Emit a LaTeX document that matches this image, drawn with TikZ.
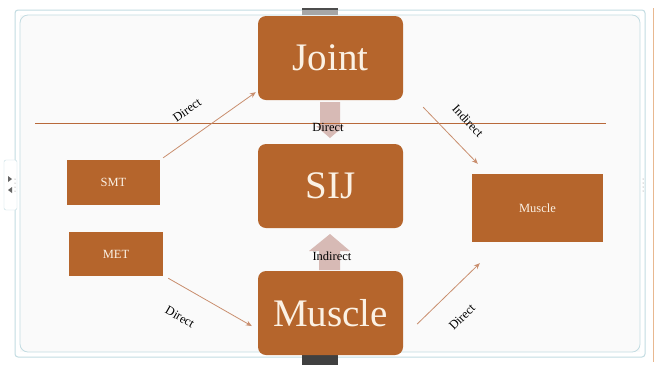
\documentclass[tikz,border=0pt]{standalone}
\usepackage{fontspec}
\setmainfont{Liberation Serif}
\usetikzlibrary{calc,arrows.meta}
\definecolor{boxc}{HTML}{B5652C}
\definecolor{boxtxt}{HTML}{FBF1E4}
\definecolor{pinkc}{HTML}{D7BAB5}
\definecolor{linec}{HTML}{B8693A}
\definecolor{arrc}{HTML}{C98E6E}
\definecolor{framec}{HTML}{C3DCE2}
\definecolor{slidebg}{HTML}{FAFAFA}
\definecolor{orangeline}{HTML}{E8B890}
\tikzset{
  bigbox/.style={fill=boxc, rounded corners=8pt, text=boxtxt, font=\fontsize{39}{44}\selectfont,
    minimum width=145pt, minimum height=84pt, inner sep=0pt},
  smallbox/.style={fill=boxc, text=boxtxt, font=\fontsize{12.5}{14}\selectfont, inner sep=0pt},
  lbl/.style={font=\fontsize{12.5}{14}\selectfont, text=black, inner sep=0pt},
  conn/.style={draw=arrc, line width=0.8pt, -{Stealth[length=6pt,width=5pt]}},
  blockarrow/.style={fill=pinkc, draw=none}
}
\begin{document}
\begin{tikzpicture}[x=1pt,y=-1pt]
\useasboundingbox (0,0) rectangle (660,365);
\fill[white] (0,0) rectangle (660,365);
% slide frame
\fill[slidebg] (20,15) rectangle (640,352);
\draw[framec, line width=1pt, rounded corners=3pt] (15,10) rectangle (645,357);
\draw[framec, line width=0.8pt, rounded corners=8pt] (20,15) rectangle (640,352);
\draw[orangeline, line width=0.8pt] (653,8) -- (653,362);
% handles
\fill[gray!70] (302,8) rectangle (338,15);
\fill[black!70] (302,8) rectangle (338,10);
\fill[black!75] (302,355) rectangle (338,365);
\fill[white,rounded corners=2pt,draw=framec] (4,160) rectangle (17,210);
\fill[black!60] (8,176) -- (12,179) -- (8,182) -- cycle;
\fill[black!60] (12,187) -- (8,190) -- (12,193) -- cycle;
\foreach \yy in {179,183,187,191} \fill[gray] (15,\yy) circle (0.5pt);
\foreach \yy in {179,183,187,191} \fill[gray] (643,\yy) circle (0.5pt);

% block arrows
\fill[blockarrow] (320,102) -- (340,102) -- (340,126) -- (344,126) -- (330,138) -- (316,126) -- (320,126) -- cycle;
\fill[blockarrow] (330,234) -- (350,251) -- (340,251) -- (340,270) -- (319,270) -- (319,251) -- (309,251) -- cycle;

% horizontal line
\draw[linec, line width=0.9pt] (35,123) -- (606,123);

% boxes
\node[bigbox] (joint) at (330.5,58) {Joint};
\node[bigbox] (sij) at (330.5,186) {SIJ};
\node[bigbox] (muscle) at (330.5,313) {Muscle};
\node[smallbox, minimum width=93pt, minimum height=45pt] (smt) at (113.5,182.5) {SMT};
\node[smallbox, minimum width=94pt, minimum height=44pt] (met) at (116,254) {MET};
\node[smallbox, minimum width=131pt, minimum height=68pt] (rmus) at (537.5,208) {Muscle};

% connectors
\draw[conn] ($(smt.north east)+(3,-2)$) -- ($(joint.south west)+(-2,-8)$);
\draw[conn] ($(joint.south east)+(20,7)$) -- ($(rmus.north west)+(6,-10)$);
\draw[conn] ($(met.south east)+(5,2)$) -- ($(muscle.west)+(-6,13)$);
\draw[conn] ($(muscle.east)+(14,11)$) -- ($(rmus.south west)+(8,21)$);

% labels
\node[lbl, rotate=35] (l1) at (187,110) {Direct};
\node[lbl, rotate=-47] (l2) at (468,121) {Indirect};
\node[lbl, rotate=-30] (l3) at (180,317) {Direct};
\node[lbl, rotate=45] (l4) at (462,317) {Direct};
\node[lbl] (l5) at (328,127) {Direct};
\node[lbl] (l6) at (332,256) {Indirect};
\end{tikzpicture}
\end{document}
